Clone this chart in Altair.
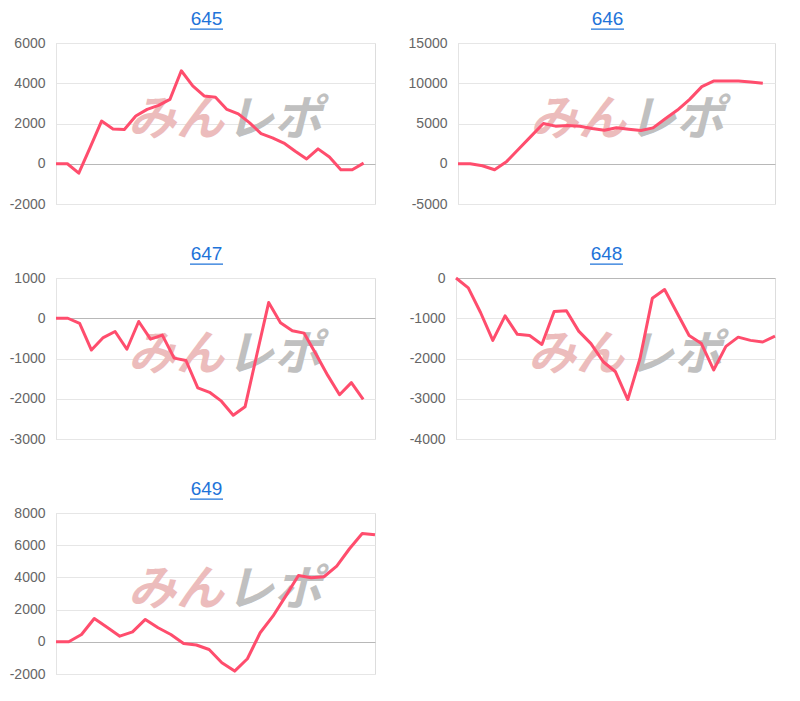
import altair as alt
import pandas as pd

FONT = "Liberation Sans"
LINE = "#ff4d6d"
BLUE = "#1e73d9"

titles = ["645", "646", "647", "648", "649"]

vals_645 = [0, 0, -470, 815, 2120, 1730, 1700, 2370, 2700, 2900, 3200, 4620, 3870, 3370,
            3300, 2700, 2480, 2030, 1500, 1290, 1030, 620, 240, 740, 340, -300, -300, 30]
vals_646 = [0, 0, -250, -750, 290, 1860, 3430, 5000, 4670, 4750, 4670, 4380, 4170, 4460,
            4300, 4130, 4460, 5580, 6670, 8000, 9580, 10290, 10290, 10290, 10150, 10000]
vals_647 = [0, 0, -130, -790, -480, -330, -770, -80, -520, -420, -990, -1050, -1730, -1840,
            -2060, -2410, -2200, -900, 390, -110, -310, -370, -890, -1420, -1900, -1600, -2015]
vals_648 = [0, -245, -857, -1550, -940, -1400, -1430, -1650, -830, -815, -1320, -1630, -2080,
            -2330, -3020, -2000, -505, -285, -857, -1430, -1630, -2285, -1700, -1470, -1550,
            -1590, -1445]
vals_649 = [0, 0, 455, 1450, 910, 350, 620, 1390, 870, 455, -100, -200, -480, -1300, -1820,
            -1055, 560, 1590, 2840, 4120, 3975, 4040, 4700, 5780, 6730, 6650]

slots = [29, 27, 28, 27, 26]
ticks_645 = [-2000, 0, 2000, 4000, 6000]
ticks_646 = [-5000, 0, 5000, 10000, 15000]
ticks_647 = [-3000, -2000, -1000, 0, 1000]
ticks_648 = [-4000, -3000, -2000, -1000, 0]
ticks_649 = [-2000, 0, 2000, 4000, 6000, 8000]
watermark = ["みん", "レポ"]

H = 161


def panel(title, vals, nslots, ticks, width):
    df = pd.DataFrame({"i": list(range(len(vals))), "v": vals})
    one = pd.DataFrame({"a": [0]})
    line = alt.Chart(df).mark_line(color=LINE, strokeWidth=3, strokeJoin="round").encode(
        x=alt.X("i:Q", scale=alt.Scale(domain=[0, nslots - 1], nice=False, zero=False), axis=None),
        y=alt.Y("v:Q", scale=alt.Scale(domain=[min(ticks), max(ticks)], nice=False, zero=False),
                axis=alt.Axis(values=ticks, title=None, labelFontSize=14, labelColor="#666666",
                              labelFont=FONT, labelPadding=11, ticks=False, domain=True,
                              labelExpr="'' + datum.value",
                              domainColor="#e4e4e4", grid=True,
                              gridColor={"condition": {"test": "datum.value === 0", "value": "#b8b8b8"},
                                         "value": "#e6e6e6"},
                              labelFlush=False, labelOverlap=False)),
    )
    wm1 = alt.Chart(one).mark_text(text=watermark[0], font="Noto Sans CJK JP", fontSize=48,
                                   fontWeight="bold", fontStyle="italic", color="#ecbcbc",
                                   baseline="middle", align="center").encode(
        x=alt.value(120), y=alt.value(78))
    wm2 = alt.Chart(one).mark_text(text=watermark[1], font="Noto Sans CJK JP", fontSize=48,
                                   fontWeight="bold", fontStyle="italic", color="#c0c0c0",
                                   baseline="middle", align="center").encode(
        x=alt.value(218), y=alt.value(78))
    cx = width / 2 - 9
    underline = alt.Chart(one).mark_rule(color=BLUE, strokeWidth=1.3).encode(
        x=alt.value(cx - 16.5), x2=alt.value(cx + 16.5), y=alt.value(-13.8))
    return alt.layer(wm1, wm2, line, underline).properties(
        width=width, height=H,
        title=alt.TitleParams(text=title, fontSize=19, color=BLUE, font=FONT, fontWeight="normal",
                              anchor="middle", frame="group", dx=-9, offset=0),
    )


p645 = panel(titles[0], vals_645, slots[0], ticks_645, 319)
p646 = panel(titles[1], vals_646, slots[1], ticks_646, 317)
p647 = panel(titles[2], vals_647, slots[2], ticks_647, 319)
p648 = panel(titles[3], vals_648, slots[3], ticks_648, 319)
p649 = panel(titles[4], vals_649, slots[4], ticks_649, 319)

row1 = alt.hconcat(p645, p646, spacing=31)
row2 = alt.hconcat(p647, p648, spacing=32)
chart = alt.vconcat(row1, row2, p649, spacing=32).properties(
    padding={"left": 0, "top": 1, "right": 5, "bottom": 5}
).configure_view(stroke=None).configure(background="white")

chart.save("out.html", embed_options={"renderer": "svg", "actions": False})
